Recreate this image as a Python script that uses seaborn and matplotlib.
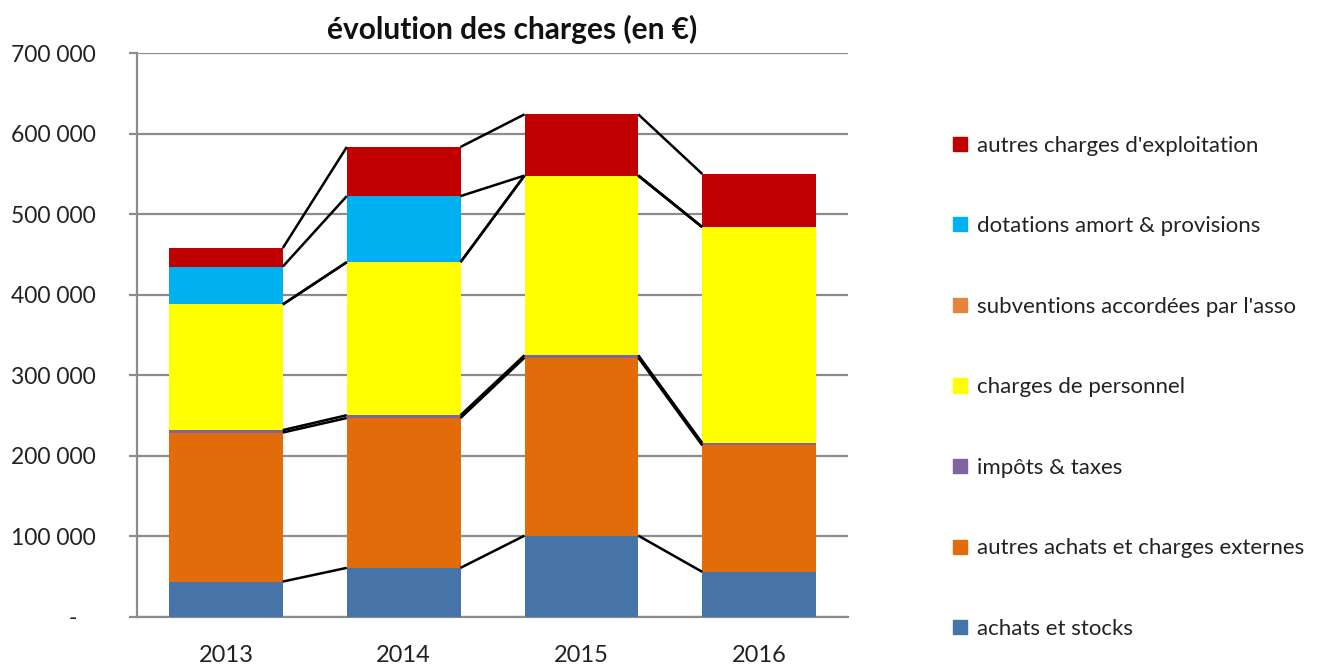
import numpy as np
import matplotlib
matplotlib.use("Agg")
import matplotlib.pyplot as plt
import matplotlib.patches as mpatches
from matplotlib.ticker import FuncFormatter
import seaborn as sns

years = ["2013", "2014", "2015", "2016"]

# series from bottom to top of the stack
series_names = [
    "achats et stocks",
    "autres achats et charges externes",
    "impôts & taxes",
    "charges de personnel",
    "subventions accordées par l'asso",
    "dotations amort & provisions",
    "autres charges d'exploitation",
]
achats = [44000, 61000, 101000, 56000]
autres_achats = [185000, 186000, 221000, 157000]
impots = [3000, 3500, 3000, 3000]
personnel = [156000, 190000, 223000, 268000]
subventions = [0, 0, 0, 0]
dotations = [47000, 82000, 0, 0]
autres_charges = [23000, 61000, 76000, 66000]

series_colors = ["#4674A9", "#E36C0A", "#8064A2", "#FFFF00",
                 "#E3853F", "#00B0F0", "#C00000"]

values = np.array([achats, autres_achats, impots, personnel,
                   subventions, dotations, autres_charges], dtype=float)
cum = np.cumsum(values, axis=0)

sns.set_style("white")
plt.rcParams["font.family"] = ["Lato", "DejaVu Sans"]

fig = plt.figure(figsize=(13.18, 6.64), dpi=100)
ax = fig.add_axes([0.104, 0.0708, 0.5394, 0.8492])

bar_w = 0.64
# draw the cumulative totals from the top down so each layer shows its own share
for i in range(len(series_names) - 1, -1, -1):
    sns.barplot(x=years, y=cum[i], color=series_colors[i], saturation=1,
                width=bar_w, linewidth=0, ax=ax, zorder=3)

# series lines between neighbouring bars
xs = np.arange(len(years))
for i in range(len(series_names)):
    for j in range(len(years) - 1):
        ax.plot([xs[j] + bar_w / 2, xs[j + 1] - bar_w / 2], [cum[i][j], cum[i][j + 1]],
                color="black", lw=1.8, zorder=4, solid_capstyle="butt")

ax.set_xlim(-0.5, 3.5)
ax.set_ylim(0, 700000)
ax.set_yticks(np.arange(0, 700001, 100000))
# accounting style: zero shown as a dash, a bit in from the right edge
ax.yaxis.set_major_formatter(FuncFormatter(
    lambda v, p: "-   " if v == 0 else f"{int(v):,}".replace(",", " ")))
ax.grid(axis="y", color="#8c8c8c", lw=1.6, zorder=0)
ax.set_axisbelow(True)
ax.set_xlabel("")
ax.set_ylabel("")
for s in ["top", "right"]:
    ax.spines[s].set_visible(False)
ax.spines["left"].set_color("#8c8c8c")
ax.spines["left"].set_linewidth(1.6)
ax.spines["bottom"].set_color("#8c8c8c")
ax.spines["bottom"].set_linewidth(1.6)
ax.tick_params(axis="y", length=6, width=1.6, color="#8c8c8c", labelsize=16.5,
               labelcolor="#222222", pad=24, left=True)
ax.tick_params(axis="x", length=0, labelsize=17, labelcolor="#222222", pad=20)
for lbl in ax.get_yticklabels():
    lbl.set_horizontalalignment("right")

ax.set_title("évolution des charges (en €)", fontsize=21.5, fontweight="bold",
             color="#111111", pad=10, x=0.528)

handles = [mpatches.Patch(color=c, label=n) for n, c in zip(series_names, series_colors)][::-1]
fig.legend(handles=handles, loc="upper left", bbox_to_anchor=(0.7149, 0.8125),
           frameon=False, fontsize=16, handlelength=0.6, handleheight=0.6,
           handletextpad=0.45, labelspacing=2.725, borderpad=0, labelcolor="#222222")

fig.savefig("out.png", dpi=100)
